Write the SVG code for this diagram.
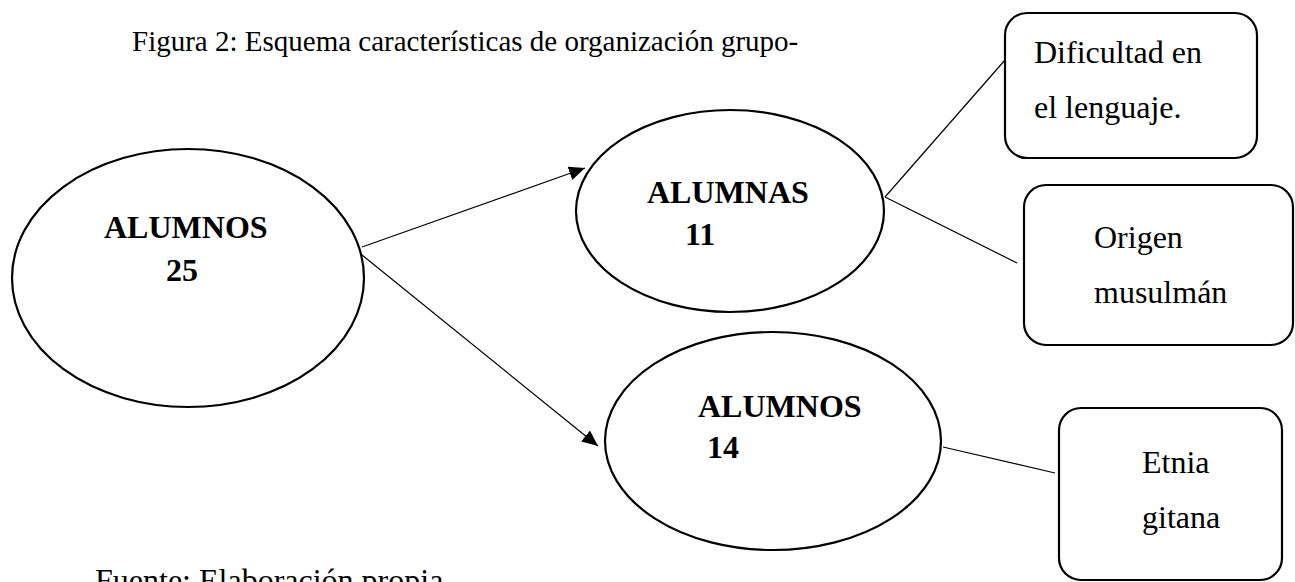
<svg xmlns="http://www.w3.org/2000/svg" width="1295" height="582" viewBox="0 0 1295 582">
<style>
.shape{fill:#fff;stroke:#000;stroke-width:2.2}
.conn{stroke:#000;stroke-width:1.2;fill:none}
.t{font-family:"Liberation Serif","Times New Roman",serif;fill:#000}
.b{font-weight:bold;font-size:32px}
.n{font-size:32px}
</style>
<defs>
<marker id="ah" markerUnits="userSpaceOnUse" markerWidth="18" markerHeight="14" refX="16" refY="7" orient="auto">
<path d="M0,0 L16,7 L0,14 Z" fill="#000"/>
</marker>
</defs>
<rect width="1295" height="582" fill="#fff"/>
<text class="t" x="132" y="51" font-size="29">Figura 2: Esquema características de organización grupo-</text>
<g id="connectors">
<line class="conn" x1="362" y1="247" x2="585" y2="168" marker-end="url(#ah)"/>
<line class="conn" x1="362" y1="255" x2="598" y2="446" marker-end="url(#ah)"/>
<line class="conn" x1="885" y1="197" x2="1005" y2="60"/>
<line class="conn" x1="885" y1="197" x2="1017" y2="263"/>
<line class="conn" x1="943" y1="447" x2="1055" y2="473"/>
</g>
<g id="n-alumnos25">
<ellipse class="shape" cx="188" cy="278" rx="176" ry="129"/>
<text class="t b" x="104" y="238">ALUMNOS</text>
<text class="t b" x="166" y="281">25</text>
</g>
<g id="n-alumnas11">
<ellipse class="shape" cx="730" cy="211" rx="154" ry="101"/>
<text class="t b" x="647" y="203">ALUMNAS</text>
<text class="t b" x="685" y="245">11</text>
</g>
<g id="n-alumnos14">
<ellipse class="shape" cx="773" cy="441" rx="168" ry="109"/>
<text class="t b" x="698" y="417">ALUMNOS</text>
<text class="t b" x="707" y="458">14</text>
</g>
<g id="n-dificultad">
<rect class="shape" x="1005" y="13" width="252" height="145" rx="22" ry="22"/>
<text class="t n" x="1034" y="63">Dificultad en</text>
<text class="t n" x="1034" y="118">el lenguaje.</text>
</g>
<g id="n-origen">
<rect class="shape" x="1024" y="185" width="269" height="160" rx="22" ry="22"/>
<text class="t n" x="1094" y="248">Origen</text>
<text class="t n" x="1094" y="303">musulmán</text>
</g>
<g id="n-etnia">
<rect class="shape" x="1059" y="408" width="223" height="172" rx="22" ry="22"/>
<text class="t n" x="1142" y="473">Etnia</text>
<text class="t n" x="1142" y="528">gitana</text>
</g>
<text class="t" x="95" y="591" font-size="32">Fuente: Elaboración propia</text>
</svg>
